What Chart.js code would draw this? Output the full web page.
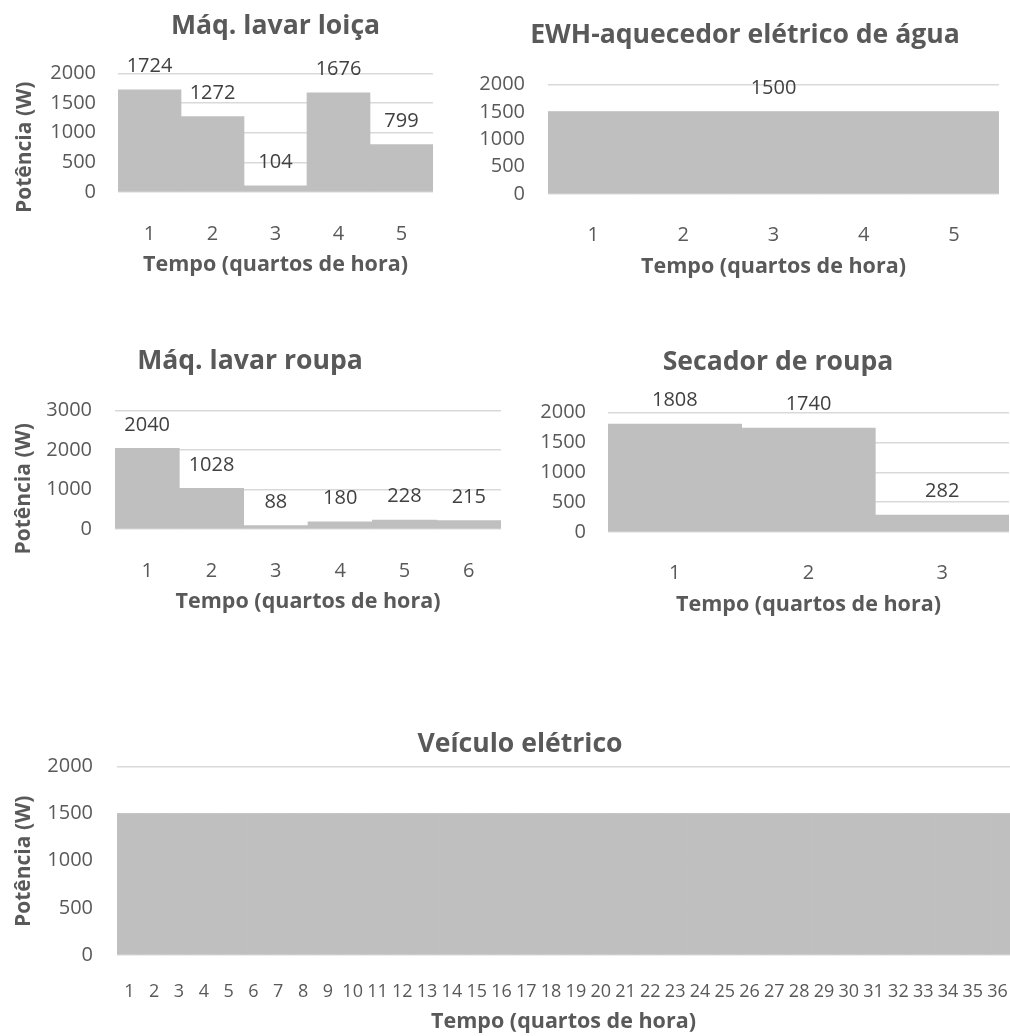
<!DOCTYPE html>
<html>
<head>
<meta charset="utf-8">
<script src="https://cdn.jsdelivr.net/npm/chart.js@4.4.1/dist/chart.umd.min.js"></script>
<style>
  body { margin: 0; background: #fff; width: 1010px; height: 1036px; position: relative; overflow: hidden; }
  canvas { position: absolute; }
</style>
</head>
<body>
<canvas id="loica" width="433" height="285" style="left:0;top:0"></canvas>
<canvas id="ewh" width="560" height="290" style="left:440px;top:0"></canvas>
<canvas id="roupa" width="501" height="290" style="left:0;top:330px"></canvas>
<canvas id="secador" width="507" height="290" style="left:503px;top:330px"></canvas>
<canvas id="veiculo" width="1010" height="336" style="left:0;top:700px"></canvas>
<script>
// power profiles per quarter hour (W)
const loicaLabels = ['1', '2', '3', '4', '5'];
const loicaValues = [1724, 1272, 104, 1676, 799];

const ewhLabels = ['1', '2', '3', '4', '5'];
const ewhValues = [1500, 1500, 1500, 1500, 1500];
const ewhLabelled = [2];

const roupaLabels = ['1', '2', '3', '4', '5', '6'];
const roupaValues = [2040, 1028, 88, 180, 228, 215];

const secadorLabels = ['1', '2', '3'];
const secadorValues = [1808, 1740, 282];

const veiculoLabels = ['1', '2', '3', '4', '5', '6', '7', '8', '9', '10', '11', '12',
  '13', '14', '15', '16', '17', '18', '19', '20', '21', '22', '23', '24',
  '25', '26', '27', '28', '29', '30', '31', '32', '33', '34', '35', '36'];
const veiculoValues = [1500, 1500, 1500, 1500, 1500, 1500, 1500, 1500, 1500, 1500, 1500, 1500,
  1500, 1500, 1500, 1500, 1500, 1500, 1500, 1500, 1500, 1500, 1500, 1500,
  1500, 1500, 1500, 1500, 1500, 1500, 1500, 1500, 1500, 1500, 1500, 1500];

const FONT = "'Open Sans', sans-serif";
const TEXT = '#595959';
const BAR = '#BFBFBF';
const GRID = '#D9D9D9';
const X_TITLE = 'Tempo (quartos de hora)';
const Y_TITLE = 'Potência (W)';

// value labels above the bars
const barValueLabels = {
  id: 'barValueLabels',
  afterDatasetsDraw(chart, args, opts) {
    if (!opts.show) return;
    const ctx = chart.ctx;
    const data = chart.data.datasets[0].data;
    ctx.save();
    ctx.font = '20px ' + FONT;
    ctx.fillStyle = '#404040';
    ctx.textAlign = 'center';
    ctx.textBaseline = 'middle';
    chart.getDatasetMeta(0).data.forEach((bar, i) => {
      if (opts.only && !opts.only.includes(i)) return;
      ctx.fillText(String(data[i]), bar.x, bar.y - 23.6);
    });
    ctx.restore();
  }
};

// nudge the title sideways from the plot-area centre
const titleShift = {
  id: 'titleShift',
  afterLayout(chart, args, opts) {
    const t = chart.titleBlock;
    if (t && opts.dx) {
      t.left += opts.dx;
      t.right += opts.dx;
    }
  }
};

// rotated y-axis caption, offset vertically from the plot-area middle
const sideTitle = {
  id: 'sideTitle',
  afterDraw(chart, args, opts) {
    if (!opts.text) return;
    const {ctx, chartArea} = chart;
    ctx.save();
    ctx.translate(opts.x, (chartArea.top + chartArea.bottom) / 2 + opts.dy);
    ctx.rotate(-Math.PI / 2);
    ctx.font = 'bold 21px ' + FONT;
    ctx.fillStyle = TEXT;
    ctx.textAlign = 'center';
    ctx.textBaseline = 'middle';
    ctx.fillText(opts.text, 0, 0);
    ctx.restore();
  }
};

function barChart(id, labels, values, c) {
  return new Chart(document.getElementById(id), {
    type: 'bar',
    data: {
      labels: labels,
      datasets: [{
        data: values,
        backgroundColor: BAR,
        borderWidth: 0,
        barPercentage: 1,
        categoryPercentage: 1
      }]
    },
    options: {
      responsive: false,
      animation: false,
      layout: { padding: { right: c.padRight || 0 } },
      plugins: {
        legend: { display: false },
        tooltip: { enabled: false },
        title: {
          display: true,
          text: c.title,
          fullSize: false,
          color: TEXT,
          font: { family: FONT, size: 26.6, weight: 'bold' },
          padding: c.titlePad
        },
        titleShift: { dx: c.titleDx },
        sideTitle: c.yTitle ? { text: Y_TITLE, x: c.yTitle.x, dy: c.yTitle.dy } : {},
        barValueLabels: { show: c.values !== false, only: c.only }
      },
      scales: {
        x: {
          grid: { display: false },
          border: { display: false },
          ticks: {
            color: TEXT,
            font: { family: FONT, size: c.xFont || 20 },
            padding: c.xTickPad,
            autoSkip: false,
            maxRotation: 0,
            minRotation: 0
          },
          title: {
            display: true,
            text: X_TITLE,
            color: TEXT,
            font: { family: FONT, size: 21.5, weight: 'bold' },
            padding: { top: 0, bottom: c.xTitlePad }
          },
          afterFit: s => {
            s.height = c.xHeight;
            s.paddingLeft = 0;
            s.paddingRight = 0;
          }
        },
        y: {
          min: 0,
          max: c.yMax,
          grid: { color: GRID, lineWidth: 1.5, drawTicks: false },
          border: { display: false },
          ticks: {
            stepSize: c.yStep,
            color: TEXT,
            font: { family: FONT, size: 20 },
            padding: c.yTickPad,
            callback: v => String(v)
          },
          afterFit: s => { s.width = c.yWidth; }
        }
      }
    },
    plugins: [barValueLabels, titleShift, sideTitle]
  });
}

barChart('loica', loicaLabels, loicaValues, {
  title: 'Máq. lavar loiça', titlePad: { top: 10.2, bottom: 31.4 }, titleDx: 0,
  yMax: 2000, yStep: 500, yWidth: 118, yTickPad: 22,
  yTitle: { x: 25.5, dy: 14.5 },
  xHeight: 93, xTickPad: 22.4, xTitlePad: 7.1
});

barChart('ewh', ewhLabels, ewhValues, {
  title: 'EWH-aquecedor elétrico de água', titlePad: { top: 19.6, bottom: 33 }, titleDx: -28.5,
  only: ewhLabelled, padRight: 1,
  yMax: 2000, yStep: 500, yWidth: 108, yTickPad: 23,
  xHeight: 96, xTickPad: 21.4, xTitlePad: 10.6
});

barChart('roupa', roupaLabels, roupaValues, {
  title: 'Máq. lavar roupa', titlePad: { top: 15.1, bottom: 33.5 }, titleDx: -58,
  yMax: 3000, yStep: 1000, yWidth: 115, yTickPad: 23,
  yTitle: { x: 24, dy: 19 },
  xHeight: 91, xTickPad: 22.4, xTitlePad: 5.6
});

barChart('secador', secadorLabels, secadorValues, {
  title: 'Secador de roupa', titlePad: { top: 16.1, bottom: 34.5 }, titleDx: -30.5,
  padRight: 1,
  yMax: 2000, yStep: 500, yWidth: 105, yTickPad: 22,
  xHeight: 88, xTickPad: 21.4, xTitlePad: 2.6
});

barChart('veiculo', veiculoLabels, veiculoValues, {
  title: 'Veículo elétrico', titlePad: { top: 28.1, bottom: 6.5 }, titleDx: -43.5,
  values: false,
  yMax: 2000, yStep: 500, yWidth: 117, yTickPad: 24,
  yTitle: { x: 24.5, dy: 0.5 },
  xHeight: 81, xTickPad: 18.5, xTitlePad: 1.6, xFont: 18
});
</script>
</body>
</html>
